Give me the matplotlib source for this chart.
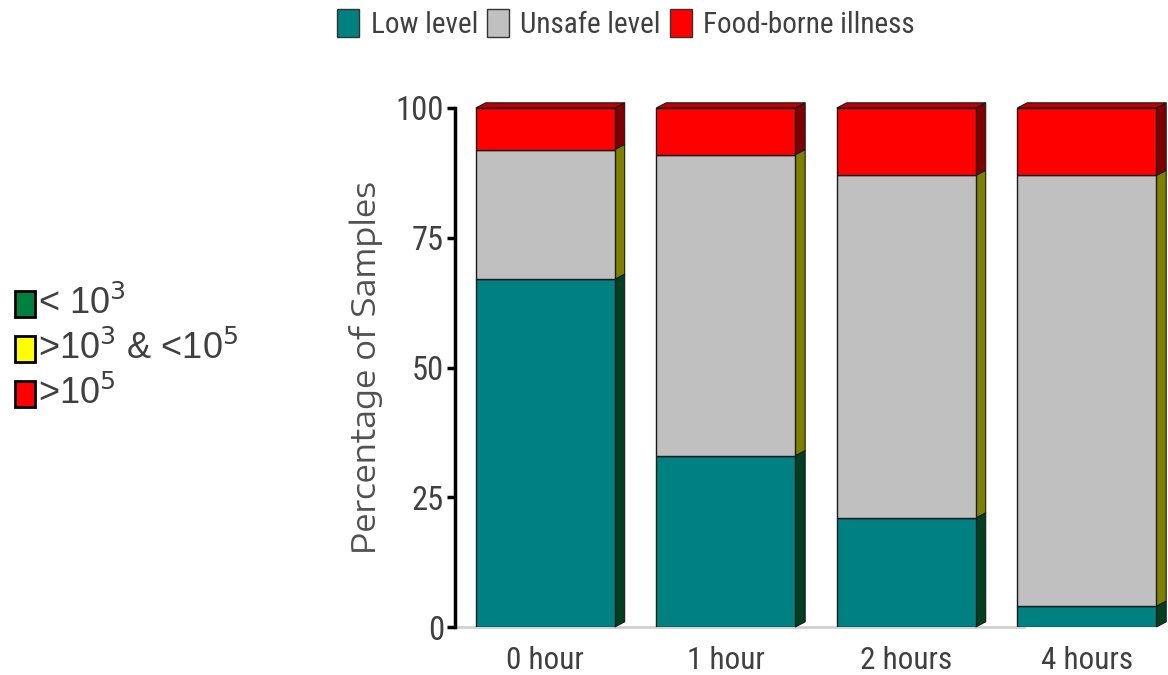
import numpy as np
import matplotlib
matplotlib.use("Agg")
import matplotlib.pyplot as plt
from matplotlib.patches import Polygon, Rectangle

categories = ["0 hour", "1 hour", "2 hours", "4 hours"]
low_level = [67, 33, 21, 4]
unsafe_level = [25, 58, 66, 83]
illness = [8, 9, 13, 13]

series_names = ["Low level", "Unsafe level", "Food-borne illness"]
front_colors = ["#008080", "#c0c0c0", "#ff0000"]
side_colors = ["#004020", "#808000", "#800000"]
top_color = "#c00000"

side_legend = ["< 10$^3$", ">10$^3$ & <10$^5$", ">10$^5$"]
side_legend_colors = ["#00803f", "#ffff00", "#ff0000"]

narrow = ["Roboto Condensed", "DejaVu Sans"]
plain = ["Liberation Sans", "DejaVu Sans"]
wide = ["Encode Sans Expanded", "Liberation Sans", "DejaVu Sans"]
txt = "#404040"

fig = plt.figure(figsize=(11.68, 6.75), dpi=100)
ax = fig.add_axes([455 / 1168, 48 / 675, 713 / 1168, 519 / 675])

x = np.arange(len(categories))
width = 0.77
dx, dy = 0.055, 1.0

bottom = np.zeros(len(categories))
for vals, fc, sc in zip([low_level, unsafe_level, illness], front_colors, side_colors):
    vals = np.array(vals, dtype=float)
    ax.bar(x, vals, width, bottom=bottom, color=fc, edgecolor="#1a1a1a",
           linewidth=1.0, zorder=3)
    for xi, b, v in zip(x, bottom, vals):
        xr = xi + width / 2
        side = Polygon([(xr, b), (xr + dx, b + dy), (xr + dx, b + v + dy), (xr, b + v)],
                       closed=True, facecolor=sc, edgecolor="#1a1a1a", linewidth=0.8,
                       zorder=2, clip_on=False)
        ax.add_patch(side)
    bottom = bottom + vals

# top faces of the stacks
for xi, tot in zip(x, bottom):
    xl, xr = xi - width / 2, xi + width / 2
    ax.add_patch(Polygon([(xl, tot), (xl + dx, tot + dy), (xr + dx, tot + dy), (xr, tot)],
                         closed=True, facecolor=top_color, edgecolor="#1a1a1a",
                         linewidth=0.8, zorder=2, clip_on=False))

# floor line
ax.plot([-0.5, 2.65], [0, 0], color="#d0d0d0", linewidth=2, zorder=1, clip_on=False)

ax.set_xlim(-0.5, 3.45)
ax.set_ylim(0, 100)
ax.set_yticks([0, 25, 50, 75, 100])
ax.set_xticks(x)
ax.set_xticklabels(categories, family=narrow, fontsize=22.5, color=txt)
for lab in ax.get_yticklabels():
    lab.set_family(narrow)
    lab.set_fontsize(23.5)
    lab.set_color(txt)
ax.tick_params(axis="x", length=0, pad=14)
ax.tick_params(axis="y", length=6, width=2.5, pad=2)
for s in ["top", "right", "bottom"]:
    ax.spines[s].set_visible(False)
ax.spines["left"].set_linewidth(2.5)
ax.set_ylabel("Percentage of Samples", fontsize=23.5, color="#505050", family=wide)
ax.yaxis.set_label_coords(-72 / 713, 0.5)

# legend across the top
handles = [Rectangle((0, 0), 1, 1, facecolor=c, edgecolor="#333333", linewidth=1)
           for c in front_colors]
fig.legend(handles, series_names, loc="center", bbox_to_anchor=(626 / 1168, 1 - 24 / 675),
           ncol=3, frameon=False, handlelength=0.75, handleheight=1.1, handletextpad=0.4,
           columnspacing=0.3, prop={"family": narrow, "size": 21}, labelcolor=txt)

# colour key on the left
for i, (lab, c) in enumerate(zip(side_legend, side_legend_colors)):
    yc = 1 - (304 + i * 45) / 675
    fig.patches.append(Rectangle((15 / 1168, yc - 13 / 675), 20 / 1168, 26 / 675,
                                 transform=fig.transFigure, facecolor=c,
                                 edgecolor="black", linewidth=2))
    fig.text(38 / 1168, yc, lab, fontsize=26, color=txt, va="center", family=plain)

fig.savefig("out.png", dpi=100)
